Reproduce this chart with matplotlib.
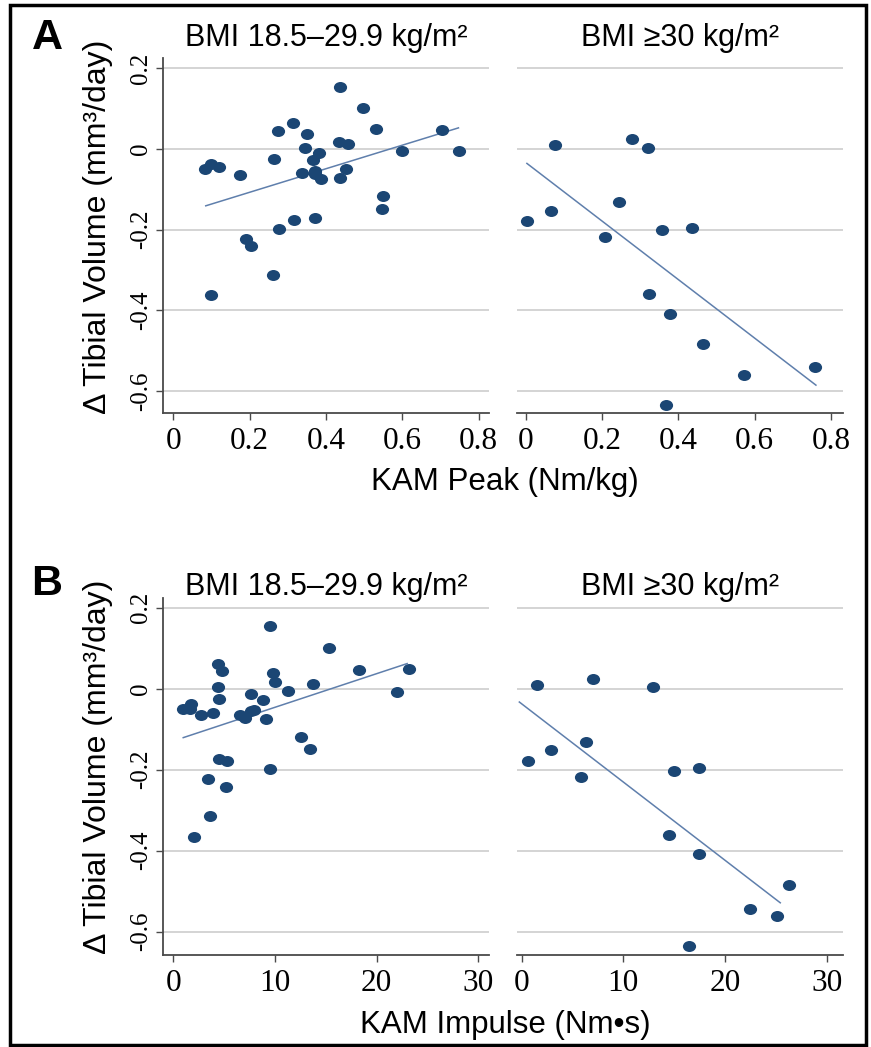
import numpy as np
import matplotlib
matplotlib.use("Agg")
import matplotlib.pyplot as plt
from matplotlib.path import Path
from matplotlib.patches import Rectangle

plt.rcParams['font.family'] = ['Liberation Sans', 'DejaVu Sans']

# Panel A: KAM peak (Nm/kg) vs change in tibial volume (mm3/day)
peak_normal_x = [0.437, 0.496, 0.313, 0.273, 0.351, 0.531, 0.703, 0.435, 0.457, 0.346,
                 0.381, 0.599, 0.748, 0.265, 0.366, 0.100, 0.083, 0.121, 0.176, 0.337,
                 0.370, 0.372, 0.388, 0.452, 0.436, 0.549, 0.547, 0.370, 0.316, 0.278,
                 0.191, 0.204, 0.261, 0.098]
peak_normal_y = [0.153, 0.100, 0.063, 0.045, 0.038, 0.050, 0.046, 0.017, 0.012, 0.003,
                 -0.009, -0.005, -0.006, -0.026, -0.027, -0.037, -0.050, -0.046, -0.064, -0.059,
                 -0.054, -0.063, -0.074, -0.050, -0.071, -0.117, -0.149, -0.171, -0.175, -0.198,
                 -0.222, -0.240, -0.313, -0.363]
peak_obese_x = [0.077, 0.279, 0.321, 0.244, 0.065, 0.003, 0.208, 0.358, 0.436, 0.322,
                0.378, 0.465, 0.572, 0.759, 0.368]
peak_obese_y = [0.009, 0.024, 0.002, -0.132, -0.153, -0.179, -0.217, -0.202, -0.196, -0.360,
                -0.408, -0.484, -0.560, -0.539, -0.634]
peak_normal_fit_x = [0.085, 0.747]
peak_normal_fit_y = [-0.141, 0.052]
peak_obese_fit_x = [0.003, 0.761]
peak_obese_fit_y = [-0.036, -0.585]

# Panel B: KAM impulse (Nm*s) vs change in tibial volume (mm3/day)
imp_normal_x = [9.54, 15.28, 4.36, 4.79, 9.84, 10.0, 18.23, 23.15, 13.70, 11.31,
                22.03, 4.43, 4.49, 7.67, 8.79, 1.70, 0.98, 1.64, 2.72, 3.93,
                6.56, 7.05, 7.93, 7.64, 9.11, 12.59, 13.44, 4.52, 5.31, 9.48,
                3.38, 5.21, 3.61, 2.03]
imp_normal_y = [0.155, 0.100, 0.062, 0.044, 0.038, 0.016, 0.045, 0.049, 0.012, -0.006,
                -0.007, 0.004, -0.026, -0.012, -0.029, -0.037, -0.050, -0.050, -0.064, -0.060,
                -0.064, -0.073, -0.052, -0.055, -0.074, -0.119, -0.150, -0.174, -0.179, -0.198,
                -0.223, -0.242, -0.315, -0.367]
imp_obese_x = [1.54, 6.97, 12.93, 0.62, 2.85, 6.28, 5.86, 15.02, 17.41, 14.47,
               17.48, 26.28, 22.45, 25.11, 16.43]
imp_obese_y = [0.010, 0.023, 0.005, -0.179, -0.152, -0.132, -0.219, -0.203, -0.197, -0.362,
               -0.408, -0.486, -0.544, -0.561, -0.636]
imp_normal_fit_x = [0.98, 23.0]
imp_normal_fit_y = [-0.121, 0.062]
imp_obese_fit_x = [-0.23, 25.43]
imp_obese_fit_y = [-0.033, -0.529]

y_ticks = [-0.6, -0.4, -0.2, 0, 0.2]
y_tick_labels = ['-0.6', '-0.4', '-0.2', '0', '0.2']
peak_ticks = [0, 0.2, 0.4, 0.6, 0.8]
peak_tick_labels = ['0', '0.2', '0.4', '0.6', '0.8']
imp_ticks = [0, 10, 20, 30]
imp_tick_labels = ['0', '10', '20', '30']

title_normal = 'BMI 18.5\u201329.9 kg/m\u00b2'
title_obese = 'BMI \u226530 kg/m\u00b2'
y_label = '\u0394 Tibial Volume (mm\u00b3/day)'

W, H = 871, 1047
DOT = '#1b4674'
FIT = '#5f7fac'
GRID = '#c9c9c9'
SPINE = '#4a4a4a'
SERIF = ['Liberation Serif', 'DejaVu Serif']

# slightly wide dot, as in the scanned figure
circ = Path.unit_circle()
dot = Path(circ.vertices * np.array([1.2, 1.0]), circ.codes)

fig = plt.figure(figsize=(W / 100, H / 100), dpi=100)


def add_panel(x0, y0, x1, y1):
    return fig.add_axes([x0 / W, 1 - y1 / H, (x1 - x0) / W, (y1 - y0) / H])


def style_panel(ax, xlim, ylim, xticks, xlabels, left):
    ax.set_xlim(xlim)
    ax.set_ylim(ylim)
    for yv in y_ticks:
        ax.axhline(yv, color=GRID, lw=1.1, zorder=0)
    for s in ['top', 'right']:
        ax.spines[s].set_visible(False)
    ax.spines['bottom'].set_color(SPINE)
    ax.spines['bottom'].set_linewidth(1.3)
    ax.set_xticks(xticks)
    ax.set_xticklabels(xlabels, fontfamily=SERIF, fontsize=22.5)
    ax.tick_params(axis='x', direction='out', length=5, width=1, color=SPINE, pad=5)
    if left:
        ax.spines['left'].set_color(SPINE)
        ax.spines['left'].set_linewidth(1.3)
        ax.set_yticks(y_ticks)
        ax.set_yticklabels(y_tick_labels, fontfamily=SERIF, fontsize=18,
                           rotation=90, va='center')
        ax.tick_params(axis='y', direction='out', length=5, width=1, color=SPINE, pad=3)
    else:
        ax.spines['left'].set_visible(False)
        ax.set_yticks([])


def draw(ax, xs, ys, fx, fy):
    ax.plot(fx, fy, color=FIT, lw=1.1, zorder=2)
    ax.plot(xs, ys, linestyle='none', marker=dot, markersize=9.5,
            color=DOT, markeredgewidth=0, zorder=3)


# Panel A
ax1 = add_panel(163, 58, 489, 413)
style_panel(ax1, (-0.027, 0.827), (-0.654, 0.225), peak_ticks, peak_tick_labels, True)
draw(ax1, peak_normal_x, peak_normal_y, peak_normal_fit_x, peak_normal_fit_y)

ax2 = add_panel(517, 58, 843, 413)
style_panel(ax2, (-0.023, 0.832), (-0.654, 0.225), peak_ticks, peak_tick_labels, False)
draw(ax2, peak_obese_x, peak_obese_y, peak_obese_fit_x, peak_obese_fit_y)

# Panel B
ax3 = add_panel(163, 598, 489, 955)
style_panel(ax3, (-1.01, 31.05), (-0.658, 0.224), imp_ticks, imp_tick_labels, True)
draw(ax3, imp_normal_x, imp_normal_y, imp_normal_fit_x, imp_normal_fit_y)

ax4 = add_panel(517, 598, 843, 955)
style_panel(ax4, (-0.46, 31.6), (-0.658, 0.224), imp_ticks, imp_tick_labels, False)
draw(ax4, imp_obese_x, imp_obese_y, imp_obese_fit_x, imp_obese_fit_y)


def ftext(x, y, s, **kw):
    fig.text(x / W, 1 - y / H, s, **kw)


# panel titles and letters
ftext(326, 38, title_normal, ha='center', va='center', fontsize=22)
ftext(680, 38, title_obese, ha='center', va='center', fontsize=22)
ftext(326, 587, title_normal, ha='center', va='center', fontsize=22)
ftext(680, 587, title_obese, ha='center', va='center', fontsize=22)
ftext(47, 38, 'A', ha='center', va='center', fontsize=31, fontweight='bold')
ftext(47, 584, 'B', ha='center', va='center', fontsize=31, fontweight='bold')

# axis labels
ftext(98, 227, y_label, ha='center', va='center', rotation=90, fontsize=23)
ftext(98, 767, y_label, ha='center', va='center', rotation=90, fontsize=23)
ftext(505, 482, 'KAM Peak (Nm/kg)', ha='center', va='center', fontsize=22.5)
ftext(505, 1025, 'KAM Impulse (Nm\u2022s)', ha='center', va='center', fontsize=22.5)

# outer frame
fig.patches.append(Rectangle((10 / W, 1 - 1045 / H), 856 / W, 1040 / H,
                             transform=fig.transFigure, fill=False,
                             edgecolor='black', lw=2.5))

fig.savefig('out.png', dpi=100)
